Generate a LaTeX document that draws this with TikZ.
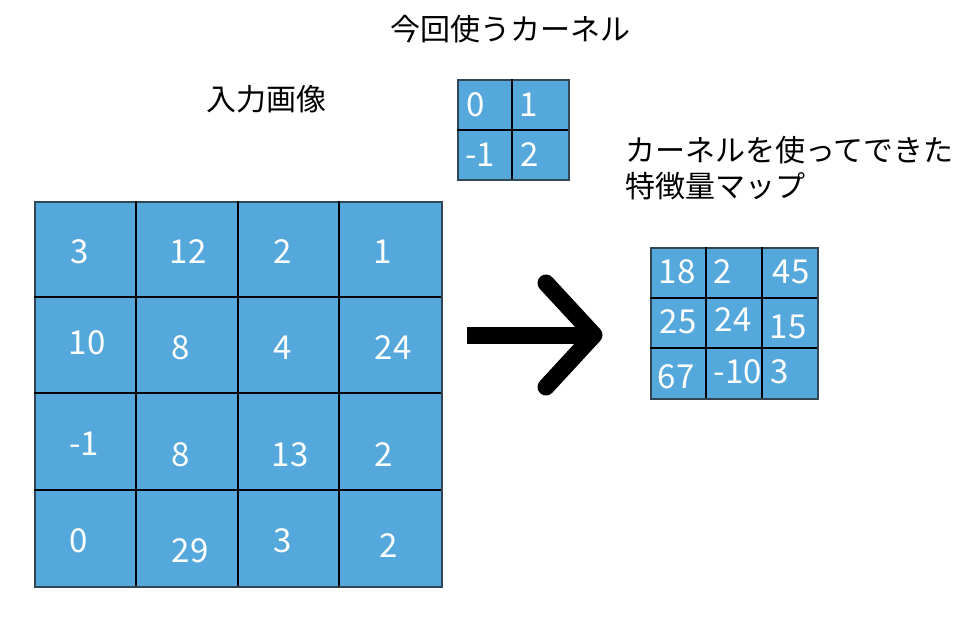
\documentclass[tikz,border=0pt]{standalone}
\usepackage{fontspec}
\setmainfont{Noto Sans CJK JP}
\usetikzlibrary{calc}
\definecolor{cellblue}{RGB}{84,168,220}
\definecolor{edgegray}{RGB}{50,70,85}
\begin{document}
\begin{tikzpicture}[x=1pt,y=-1pt,
  gridbox/.style={draw=edgegray,line width=1.5pt,fill=cellblue,inner sep=0pt,anchor=north west},
  gline/.style={draw=black,line width=1.8pt},
  num/.style={text=white,font=\fontsize{33}{33}\selectfont,inner sep=0pt},
  lbl/.style={text=black,font=\fontsize{30}{36}\selectfont,inner sep=0pt},
  bigarrow/.style={draw=black,line width=17pt}]
\useasboundingbox (0,0) rectangle (972,616);
% labels
\node[lbl] (title) at (510,29) {今回使うカーネル};
\node[lbl] (inlbl) at (266,99) {入力画像};
\node[lbl,align=left,anchor=west] (outlbl) at (625,168) {カーネルを使ってできた\\特徴量マップ};
% input image grid
\node[gridbox,minimum width=407pt,minimum height=385pt] (inp) at (34,201) {};
\foreach \x in {136,238,339} \draw[gline] (\x,201) -- (\x,586);
\foreach \y in {297,393,490} \draw[gline] (34,\y) -- (441,\y);
\node[num] (i11) at (80,252) {3};
\node[num] (i12) at (188,252) {12};
\node[num] (i13) at (283,252) {2};
\node[num] (i14) at (383,252) {1};
\node[num] (i21) at (87,343) {10};
\node[num] (i22) at (181,348) {8};
\node[num] (i23) at (283,348) {4};
\node[num] (i24) at (393,348) {24};
\node[num] (i31) at (84,444) {-1};
\node[num] (i32) at (181,455) {8};
\node[num] (i33) at (290,455) {13};
\node[num] (i34) at (384,455) {2};
\node[num] (i41) at (79,541) {0};
\node[num] (i42) at (190,551) {29};
\node[num] (i43) at (283,541) {3};
\node[num] (i44) at (389,546) {2};
% kernel grid
\node[gridbox,minimum width=111pt,minimum height=100pt] (ker) at (457,79) {};
\draw[gline] (512,79) -- (512,179);
\draw[gline] (457,130) -- (568,130);
\node[num] (k11) at (476,105) {0};
\node[num] (k12) at (529,105) {1};
\node[num] (k21) at (480,155) {-1};
\node[num] (k22) at (530,155) {2};
% feature map grid
\node[gridbox,minimum width=167pt,minimum height=151pt] (fm) at (650,247) {};
\foreach \x in {706,762} \draw[gline] (\x,247) -- (\x,398);
\foreach \y in {298,348} \draw[gline] (650,\y) -- (817,\y);
\node[num] (f11) at (677,272) {18};
\node[num] (f12) at (723,272) {2};
\node[num] (f13) at (791,272) {45};
\node[num] (f21) at (678,322) {25};
\node[num] (f22) at (733,320) {24};
\node[num] (f23) at (788,327) {15};
\node[num] (f31) at (676,377) {67};
\node[num] (f32) at (738,372) {-10};
\node[num] (f33) at (780,372) {3};
% arrow
\coordinate (as) at (467,335);
\coordinate (ae) at (594,335);
\draw[bigarrow] (as) -- (ae);
\draw[bigarrow,line cap=round,line join=round] ($(ae)+(-48,-52)$) -- (ae) -- ($(ae)+(-48,52)$);
\end{tikzpicture}
\end{document}
